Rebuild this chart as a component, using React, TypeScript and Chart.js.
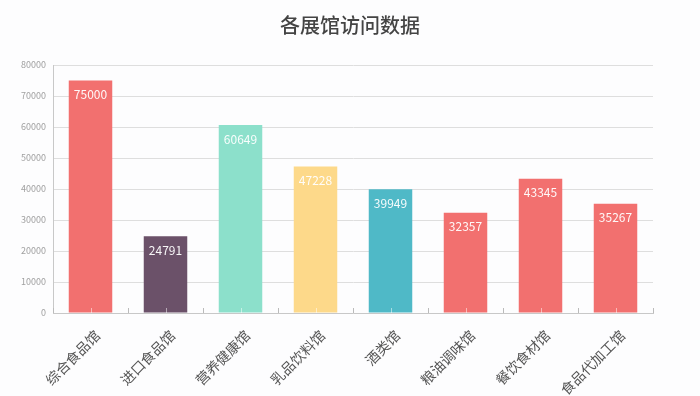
import React, { useEffect, useRef } from "react";
import { Chart, registerables } from "chart.js";

Chart.register(...registerables);

const categories = ["综合食品馆", "进口食品馆", "营养健康馆", "乳品饮料馆", "酒类馆", "粮油调味馆", "餐饮食材馆", "食品代加工馆"];
const visits = [75000, 24791, 60649, 47228, 39949, 32357, 43345, 35267];
const barColors = ["#f2706f", "#6b5169", "#8ce0cb", "#fdd98a", "#4fb9c7", "#f2706f", "#f2706f", "#f2706f"];
const titleText = "各展馆访问数据";

const FONT = "'Noto Sans CJK SC', 'Noto Sans', sans-serif";

const valueLabels = {
  id: "valueLabels",
  afterDatasetsDraw(chart: any) {
    const ctx = chart.ctx;
    const meta = chart.getDatasetMeta(0);
    ctx.save();
    ctx.fillStyle = "rgba(255,255,255,0.95)";
    ctx.font = `12px ${FONT}`;
    ctx.textAlign = "center";
    ctx.textBaseline = "middle";
    meta.data.forEach((bar: any, i: number) => {
      ctx.fillText(String(chart.data.datasets[0].data[i]), bar.x, bar.y + 14);
    });
    ctx.restore();
  },
};

const upTicks = {
  id: "upTicks",
  afterDatasetsDraw(chart: any) {
    const ctx = chart.ctx;
    const x = chart.scales.x;
    const bottom = chart.chartArea.bottom;
    ctx.save();
    ctx.strokeStyle = "#bbbbbb";
    ctx.lineWidth = 1;
    const n = categories.length;
    for (let i = 0; i <= n; i++) {
      const px = Math.round(x.left + (x.width * i) / n) + 0.5;
      ctx.beginPath();
      ctx.moveTo(px, bottom);
      ctx.lineTo(px, bottom - 5);
      ctx.stroke();
    }
    ctx.strokeStyle = "rgba(255,255,255,0.5)";
    for (let i = 0; i < n; i++) {
      const px = Math.round(x.getPixelForValue(i)) + 0.5;
      ctx.beginPath();
      ctx.moveTo(px, bottom);
      ctx.lineTo(px, bottom - 5);
      ctx.stroke();
    }
    ctx.restore();
  },
};

export default function App() {
  const ref = useRef<HTMLCanvasElement>(null);
  useEffect(() => {
    if (!ref.current) return;
    const chart = new Chart(ref.current, {
      type: "bar",
      data: {
        labels: categories,
        datasets: [
          {
            data: visits,
            backgroundColor: barColors,
            barPercentage: 0.58,
            categoryPercentage: 1,
          },
        ],
      },
      plugins: [valueLabels, upTicks],
      options: {
        animation: false,
        responsive: false,
        layout: { padding: 0 },
        plugins: {
          legend: { display: false },
          tooltip: { enabled: false },
          title: {
            display: true,
            text: titleText,
            color: "#444444",
            font: { family: FONT, size: 20, weight: "500" as any, lineHeight: 1.2 },
            padding: { top: 13, bottom: 28 },
          },
        },
        scales: {
          x: {
            grid: { display: false },
            border: { display: true, color: "#c8c8c8" },
            ticks: {
              color: "#555555",
              font: { family: FONT, size: 14 },
              maxRotation: 45,
              minRotation: 45,
              padding: 6,
              labelOffset: 7,
            },
            afterFit: (s: any) => {
              s.height = 83;
            },
          },
          y: {
            min: 0,
            max: 80000,
            grid: { color: "#dedede", drawTicks: false },
            border: { display: true, color: "#c8c8c8" },
            ticks: {
              stepSize: 10000,
              color: "#a0a0a0",
              font: { family: FONT, size: 9 },
              padding: 7,
              callback: (v: any) => String(v),
            },
            afterFit: (s: any) => {
              s.width = 53;
            },
          },
          yRight: {
            position: "right",
            display: true,
            grid: { display: false, drawTicks: false },
            border: { display: false },
            ticks: { display: false },
            afterFit: (s: any) => {
              s.width = 47;
            },
          },
        },
      },
    });
    return () => chart.destroy();
  }, []);
  return (
    <div style={{ position: "fixed", left: 0, top: 0, width: 700, height: 396, background: "#fdfdfe" }}>
      <canvas ref={ref} width={700} height={396} style={{ width: 700, height: 396, display: "block" }} />
    </div>
  );
}
